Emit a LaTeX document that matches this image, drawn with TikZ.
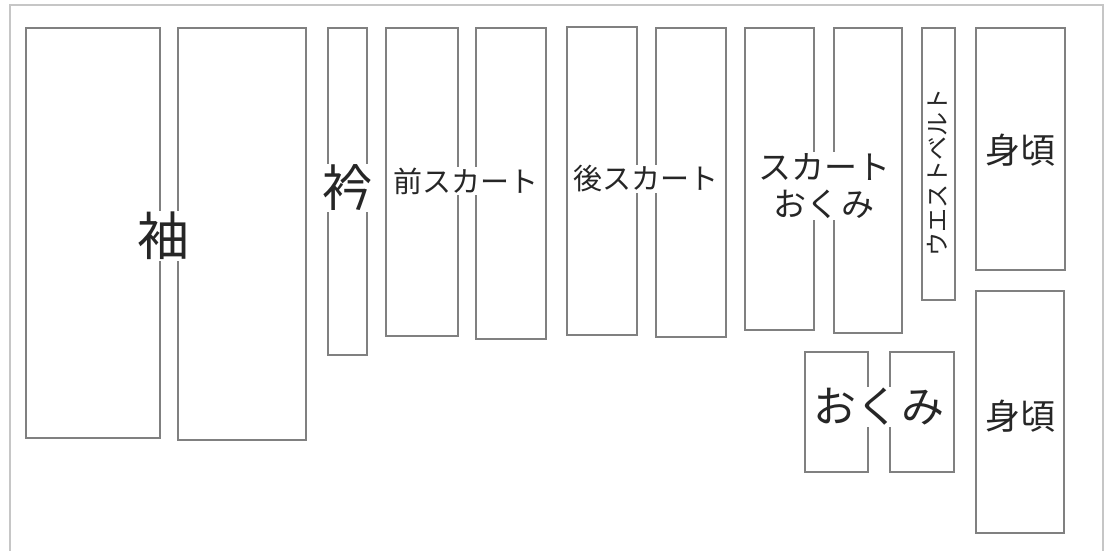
\documentclass[tikz,border=0pt]{standalone}
\usepackage{fontspec}
\setmainfont{Noto Sans CJK JP}

\begin{document}
\begin{tikzpicture}[x = 1pt, y = -1pt,
	piece/.style = {draw = gray, line width = 1.3pt},
	tag/.style = {fill = white, inner sep = 1pt, text = black!85}]
	\useasboundingbox (0,0) rectangle (1110,550);
	\draw [color = gray!45, line width = 2pt] (10,560) -- (10,5) -- (1103,5) -- (1103,560);
	% pieces laid out on the cloth
	\foreach \xa/\ya/\xb/\yb in {26/28/160/438, 178/28/306/440, 328/28/367/355,
		386/28/458/336, 476/28/546/339, 567/27/637/335, 656/28/726/337,
		745/28/814/330, 834/28/902/333, 922/28/955/300,
		976/28/1065/270, 976/291/1064/533, 805/352/868/472, 890/352/954/472}
	\draw[piece] (\xa,\ya) rectangle (\xb,\yb);
	\node (sode) at (163,236) [tag, font = \fontsize{52}{52}\selectfont] {袖};
	\node (eri) at (347,188) [tag, font = \fontsize{50}{50}\selectfont] {衿};
	\node (maeskirt) at (466,181) [tag, font = \fontsize{29}{29}\selectfont] {前スカート};
	\node (ushiroskirt) at (646,179) [tag, font = \fontsize{29}{29}\selectfont] {後スカート};
	\node (skirtokumi) at (824,186) [tag, align = center, font = \fontsize{33}{37}\selectfont] {スカート\\おくみ};
	\node (belt) at (937,172) [tag, rotate = 90, font = \fontsize{24}{24}\selectfont] {ウエストベルト};
	\node (migoro1) at (1020,150) [tag, font = \fontsize{35}{35}\selectfont] {身頃};
	\node (migoro2) at (1020,416) [tag, font = \fontsize{35}{35}\selectfont] {身頃};
	\node (okumi) at (879,407) [tag, font = \fontsize{43}{43}\selectfont] {おくみ};
\end{tikzpicture}
\end{document}
